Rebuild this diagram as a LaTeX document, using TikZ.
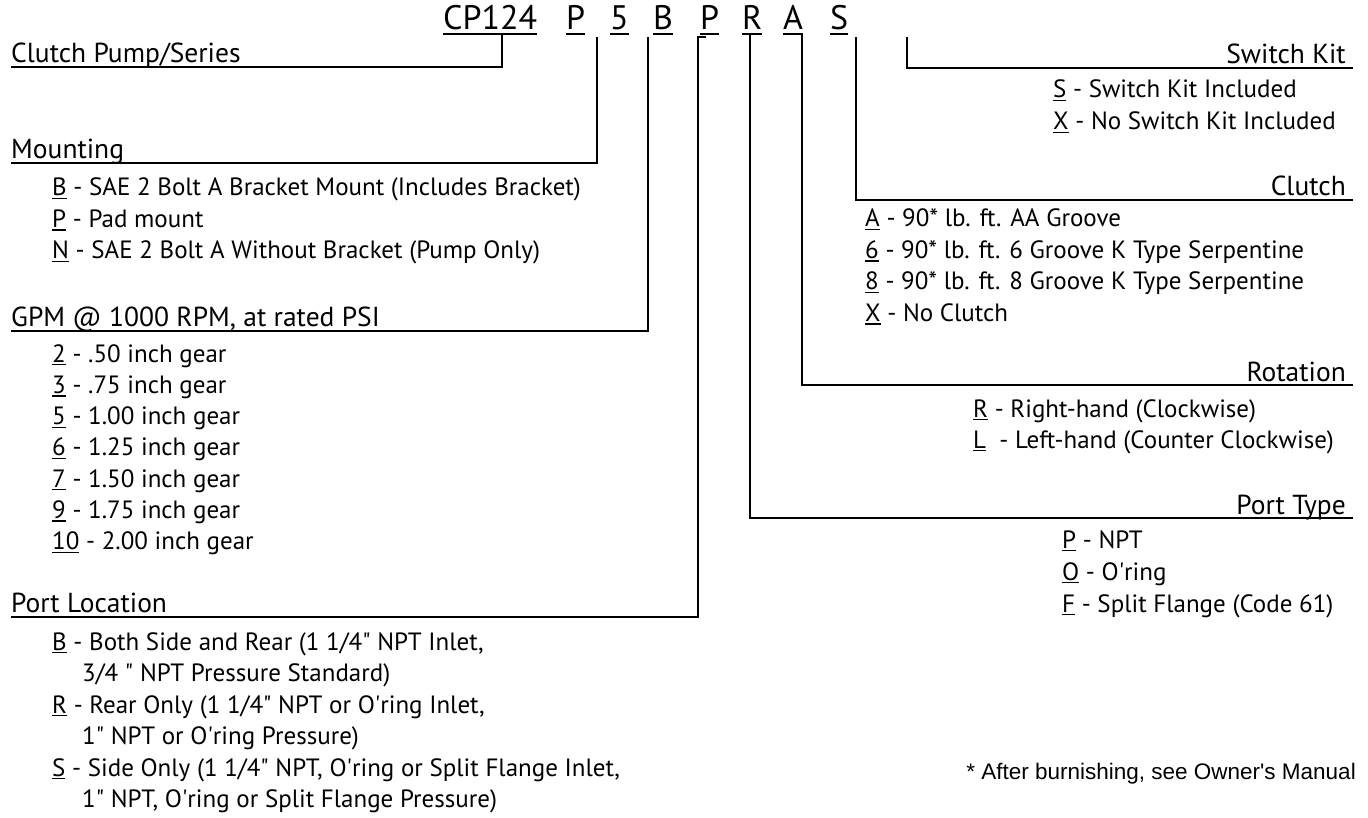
\documentclass[tikz,border=0pt]{standalone}
\usepackage{fontspec}
\setmainfont{PT Sans}
\newfontfamily\notefont{Liberation Sans}
\usetikzlibrary{positioning,calc}

\newcommand{\headfont}{\fontsize{27.5}{30}\selectfont}
\newcommand{\itemfont}{\fontsize{25}{30}\selectfont}
\newcommand{\codefont}{\fontsize{34}{36}\selectfont}
% underlined option letter
\newcommand{\opt}[1]{\setbox0=\hbox{#1}\rlap{\rule[-3.2pt]{\wd0}{1.3pt}}\box0\relax}
\newcommand{\codeul}[1]{\setbox0=\hbox{#1}\rlap{\rule[-4.6pt]{\wd0}{1.6pt}}\box0\relax}

\tikzset{
  head/.style={font=\headfont, inner sep=0pt},
  item/.style={font=\itemfont, inner sep=0pt, anchor=base west},
  code/.style={font=\codefont, inner sep=0pt, anchor=base west},
  link/.style={line width=1.6pt}
}

\begin{document}
\begin{tikzpicture}[x=1pt, y=-1pt]
  \useasboundingbox (0,0) rectangle (1368,818);

  % Model code
  \node[code] (cCP) at (443,30) {\codeul{CP124}};
  \foreach \nm/\x/\lab in {cP/566/P, cFive/610/5, cB/653/B, cPt/700/P,
                           cR/742/R, cA/783/A, cS/830/S}
    \node[code] (\nm) at (\x,30) {\codeul{\lab}};

  % Tops of the leader lines
  \coordinate (tSer) at (502,34);
  \coordinate (tMnt) at (597,37);
  \coordinate (tGpm) at (648,37);
  \coordinate (tLoc) at (698,37);
  \coordinate (tTyp) at (750,34);
  \coordinate (tRot) at (802,34);
  \coordinate (tClu) at (856,37);
  \coordinate (tSw)  at (907,37);

  % Left headings
  \node[head, anchor=base west] (hSer) at (11,62.5) {Clutch Pump/Series};
  \node[head, anchor=base west] (hMnt) at (11,158.5) {Mounting};
  \node[head, anchor=base west] (hGpm) at (11,326.5) {GPM @ 1000 RPM, at rated PSI};
  \node[head, anchor=base west] (hLoc) at (11,612.5) {Port Location};

  % Right headings
  \node[head, anchor=base east] (hSw)  at (1346,64) {Switch Kit};
  \node[head, anchor=base east] (hClu) at (1346,196) {Clutch};
  \node[head, anchor=base east] (hRot) at (1346,381) {Rotation};
  \node[head, anchor=base east] (hTyp) at (1346,514) {Port Type};

  % Leaders
  \draw[link] (tSer) |- ([yshift=-4.5pt]hSer.base west);
  \draw[link] (tMnt) |- ([yshift=-4.5pt]hMnt.base west);
  \draw[link] (tGpm) |- ([yshift=-4.5pt]hGpm.base west);
  \draw[link] ([xshift=8pt]tLoc) -- (tLoc) |- ([yshift=-4.5pt]hLoc.base west);
  \draw[link] (tTyp) |- ([xshift=7pt,yshift=-4pt]hTyp.base east);
  \draw[link] (tRot) |- ([xshift=7pt,yshift=-4pt]hRot.base east);
  \draw[link] (tClu) |- ([xshift=7pt,yshift=-4pt]hClu.base east);
  \draw[link] (tSw)  |- ([xshift=7pt,yshift=-4pt]hSw.base east);

  % Mounting options
  \foreach \k/\t [count=\i] in {B/SAE 2 Bolt A Bracket Mount (Includes Bracket),
                                P/Pad mount,
                                N/SAE 2 Bolt A Without Bracket (Pump Only)}
    \node[item] (mnt\i) at (52,{196+(\i-1)*31.5}) {\opt{\k} - \t};

  % Gear sizes
  \foreach \k/\t [count=\i] in {2/.50, 3/.75, 5/1.00, 6/1.25, 7/1.50, 9/1.75, 10/2.00}
    \node[item] (gpm\i) at (52,{362+(\i-1)*31.3}) {\opt{\k} - \t\ inch gear};

  % Port locations
  \node[item] (loc1)  at (52,650)   {\opt{B} - Both Side and Rear (1 1/4\textquotedbl{} NPT Inlet,};
  \node[item] (loc1b) at (82,681.5) {3/4 \textquotedbl{} NPT Pressure Standard)};
  \node[item] (loc2)  at (52,713)   {\opt{R} - Rear Only (1 1/4\textquotedbl{} NPT or O\textquotesingle ring Inlet,};
  \node[item] (loc2b) at (82,744.5) {1\textquotedbl{} NPT or O\textquotesingle ring Pressure)};
  \node[item] (loc3)  at (52,776)   {\opt{S} - Side Only (1 1/4\textquotedbl{} NPT, O\textquotesingle ring or Split Flange Inlet,};
  \node[item] (loc3b) at (82,807.5) {1\textquotedbl{} NPT, O\textquotesingle ring or Split Flange Pressure)};

  % Switch kit
  \node[item] (sw1) at (1053,98)  {\opt{S} - Switch Kit Included};
  \node[item] (sw2) at (1053,130) {\opt{X} - No Switch Kit Included};

  % Clutch
  \foreach \k/\t [count=\i] in {A/90* lb. ft. AA Groove,
                                6/90* lb. ft. 6 Groove K Type Serpentine,
                                8/90* lb. ft. 8 Groove K Type Serpentine,
                                X/No Clutch}
    \node[item] (clu\i) at (865,{227+(\i-1)*31.5}) {\opt{\k} - \t};

  % Rotation
  \node[item] (rot1) at (973,417) {\opt{R} - Right-hand (Clockwise)};
  \node[item] (rot2) at (973,448) {\opt{L} \ - Left-hand (Counter Clockwise)};

  % Port type
  \node[item] (typ1) at (1062,548) {\opt{P} - NPT};
  \node[item] (typ2) at (1062,580) {\opt{O} - O\textquotesingle ring};
  \node[item] (typ3) at (1062,612) {\opt{F} - Split Flange (Code 61)};

  % Footnote
  \node[inner sep=0pt, anchor=base east, font=\notefont\fontsize{22.5}{26}\selectfont]
    (note) at (1356,779) {* After burnishing, see Owner\textquotesingle s Manual};
\end{tikzpicture}
\end{document}
